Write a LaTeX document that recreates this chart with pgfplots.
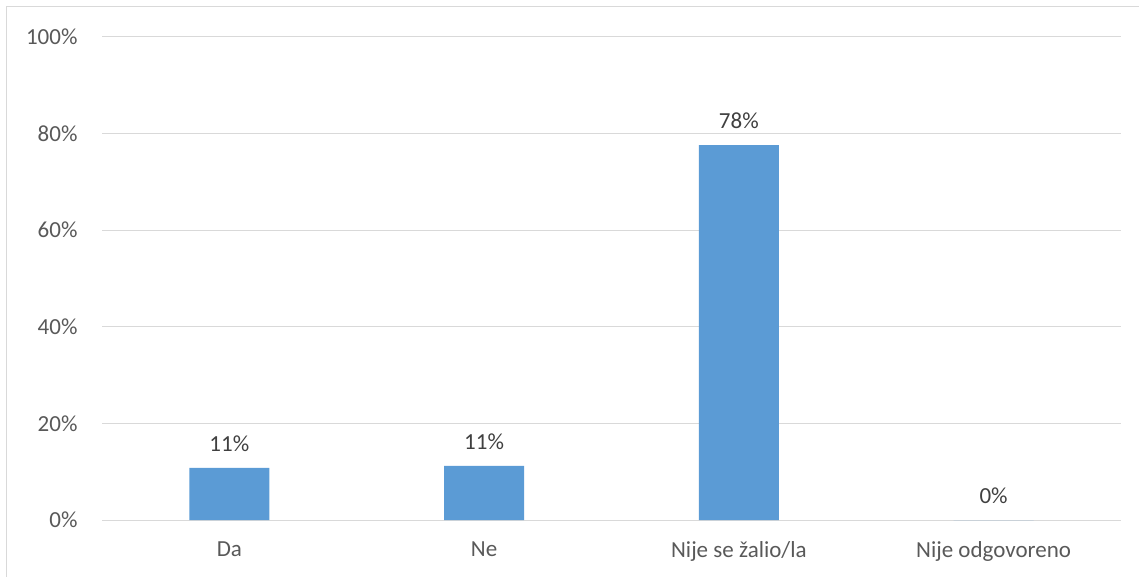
\documentclass[border=0pt]{standalone}
\usepackage{fontspec}
\setmainfont{Carlito}
\usepackage{pgfplots}
\pgfplotsset{compat=1.18}
\definecolor{barblue}{HTML}{5B9BD5}
\definecolor{gridgray}{HTML}{D9D9D9}
\definecolor{ticktext}{HTML}{595959}
\definecolor{labeltext}{HTML}{404040}
\begin{document}
\begin{tikzpicture}[x=1pt,y=1pt]
\useasboundingbox (0,0) rectangle (1139,576);
\draw[gridgray, line width=1pt] (6,-5) rectangle (1145,569);
\begin{axis}[
  at={(102pt,56pt)}, anchor=south west,
  scale only axis, width=1019pt, height=483pt,
  ymin=0, ymax=100,
  xmin=-0.5, xmax=3.5,
  ytick={0,20,40,60,80,100},
  yticklabel={\pgfmathprintnumber{\tick}\%},
  xtick=data,
  xticklabels={Da, Ne, Nije se žalio/la, Nije odgovoreno},
  ymajorgrids, grid style={gridgray, line width=1pt},
  axis line style={draw=none},
  major tick length=0pt,
  tick label style={font=\fontsize{23}{27}\selectfont, text=ticktext},
  yticklabel style={xshift=-21pt},
  xticklabel style={yshift=-18pt},
  /pgf/number format/assume math mode=true,
  ybar, bar width=80pt,
  nodes near coords={\pgfmathprintnumber[fixed,precision=0]{\pgfplotspointmeta}\%},
  point meta=explicit,
  nodes near coords style={font=\fontsize{23}{27}\selectfont, text=labeltext, yshift=13pt},
  clip=false,
]
\addplot[fill=barblue, draw=none] coordinates {(0,10.8) [11] (1,11.2) [11] (2,77.6) [78] (3,0) [0]};
\end{axis}
\end{tikzpicture}
\end{document}
